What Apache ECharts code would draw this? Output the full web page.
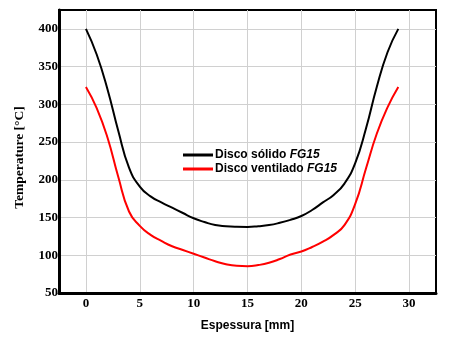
<!DOCTYPE html>
<html>
<head>
<meta charset="utf-8">
<script src="https://cdn.jsdelivr.net/npm/echarts@6/dist/echarts.min.js"></script>
<style>html,body{margin:0;padding:0;background:#fff}#c{width:461px;height:341px}</style>
</head>
<body>
<div id="c"></div>
<script>
const xValues = [0,1,2,3,4,5,6,7,8,9,10,11,12,13,14,15,16,17,18,19,20,21,22,23,24,25,26,27,28,29];
const solido = [400,366,320,265,216,191,178,170,163,156,149,144,140,138.5,137.8,137.6,138.5,140,143,147,152,160,170,180,195,222,268,323,369,400];
const ventilado = [323,295,256,204,158,139,127,119,112,107,102,97,92,88,86,85.6,87,90,95,101,105,111,118,127,140,168,215,261,296,323];
const xTicks = [0,5,10,15,20,25,30];
const yTicks = [50,100,150,200,250,300,350,400];
const seriesNames = ['Disco sólido FG15', 'Disco ventilado FG15'];
const legendMain = ['Disco sólido ', 'Disco ventilado '];
const legendItalic = ['FG15', 'FG15'];

const chart = echarts.init(document.getElementById('c'));
const serif = '"Liberation Serif", "Times New Roman", serif';
const sans = '"Liberation Sans", Arial, sans-serif';
chart.setOption({
  animation: false,
  grid: {left: 59, right: 25, top: 10, bottom: 48, show: true, borderColor: '#000', borderWidth: 2},
  legend: {
    orient: 'vertical', left: 178, top: 144, itemGap: 2,
    icon: 'rect', itemWidth: 30, itemHeight: 3,
    data: seriesNames,
    formatter: function (n) { const i = seriesNames.indexOf(n); return '{a|' + legendMain[i] + '}{b|' + legendItalic[i] + '}'; },
    textStyle: {
      padding: [0,0,0,-3],
      rich: {
        a: {fontFamily: sans, fontWeight: 'bold', fontSize: 12, color: '#000'},
        b: {fontFamily: sans, fontWeight: 'bold', fontStyle: 'italic', fontSize: 12, color: '#000'}
      }
    }
  },
  xAxis: {
    type: 'value', min: -2.5, max: 32.5,
    name: 'Espessura [mm]', nameLocation: 'middle', nameGap: 27,
    nameTextStyle: {fontFamily: sans, fontWeight: 'bold', fontSize: 12, color: '#000'},
    axisLine: {show: true, onZero: false, lineStyle: {color: '#000', width: 3}},
    axisTick: {show: false, customValues: xTicks},
    axisLabel: {customValues: xTicks, margin: 4, fontFamily: serif, fontWeight: 'bold', fontSize: 13, color: '#000'},
    splitLine: {show: true, lineStyle: {color: '#d0d0d0', width: 1}}
  },
  yAxis: {
    type: 'value', min: 50, max: 425,
    name: 'Temperature [°C]', nameLocation: 'middle', nameGap: 32, nameRotate: 90,
    nameTextStyle: {fontFamily: serif, fontWeight: 'bold', fontSize: 13.5, color: '#000', padding: [0,0,0,-12]},
    axisLine: {show: true, onZero: false, lineStyle: {color: '#000', width: 3}},
    axisTick: {show: false, customValues: yTicks},
    axisLabel: {customValues: yTicks, margin: 1, fontFamily: serif, fontWeight: 'bold', fontSize: 13, color: '#000'},
    splitLine: {show: true, lineStyle: {color: '#d0d0d0', width: 1}}
  },
  series: [
    {name: seriesNames[0], type: 'line', smooth: true, symbol: 'none', color: '#000',
     lineStyle: {color: '#000', width: 2}, data: xValues.map((x, i) => [x, solido[i]])},
    {name: seriesNames[1], type: 'line', smooth: true, symbol: 'none', color: '#ff0000',
     lineStyle: {color: '#ff0000', width: 2}, data: xValues.map((x, i) => [x, ventilado[i]])}
  ]
});
</script>
</body>
</html>
